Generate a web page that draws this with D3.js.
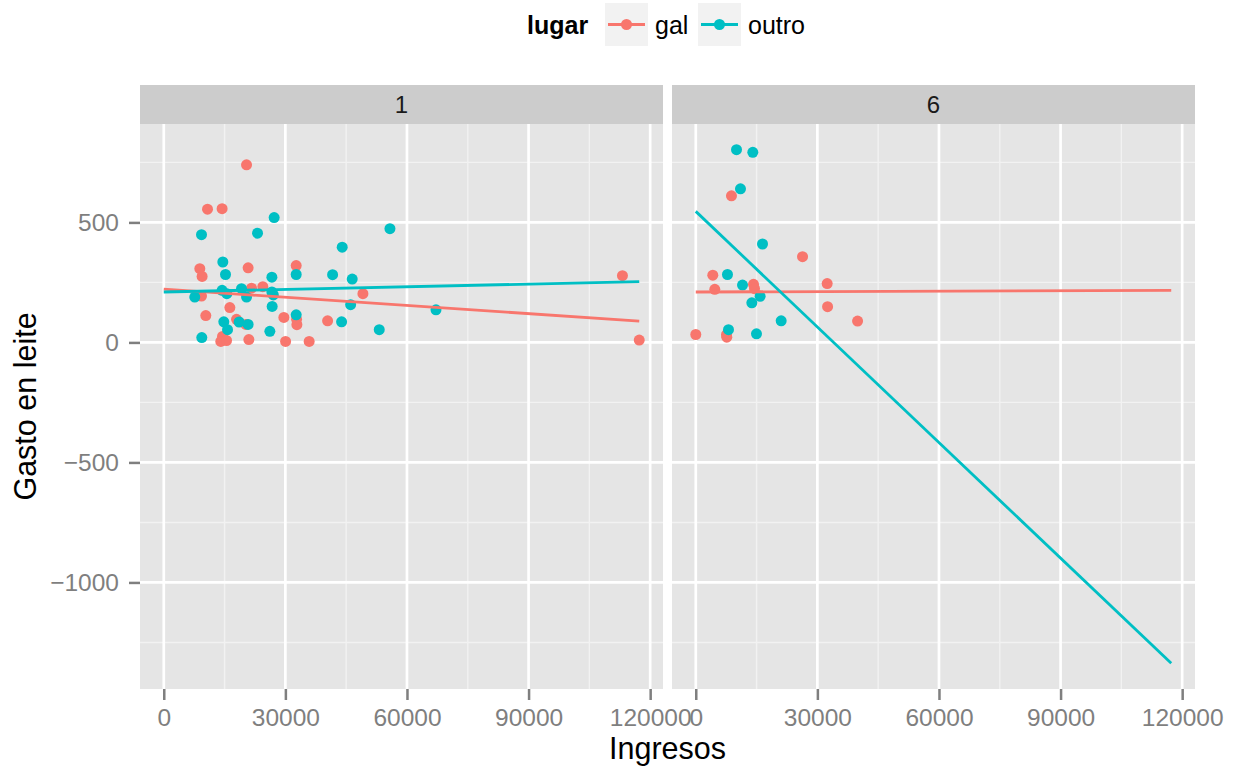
<!DOCTYPE html>
<html>
<head>
<meta charset="utf-8">
<script src="https://cdn.jsdelivr.net/npm/d3@7"></script>
<style>
  body { margin: 0; background: #fff; }
  text { font-family: "Liberation Sans", Arial, Helvetica, sans-serif; }
</style>
</head>
<body>
<div id="chart"></div>
<script>
// DATA
var lugares = ['gal', 'outro'];
var facets = ['1', '6'];
var colors = ['#F8766D', '#00BFC4'];
var xTicks = [0, 30000, 60000, 90000, 120000];
var yTicks = [500, 0, -500, -1000];

// FACET 1 POINTS
var p1GalIngresos = [20420, 10790, 14390, 8890, 9460, 20810, 32670, 21650, 24440, 9310, 49130, 16300, 10370, 17950, 20250, 29630, 32760, 32840, 40420, 14490, 14070, 15480, 20990, 30050, 35870, 113160, 117300];
var p1GalGasto = [740, 555, 557, 307, 275, 311, 320, 226, 232, 193, 203, 145, 112, 96, 75, 104, 96, 74, 90, 25, 4, 8, 12, 4, 4, 278, 10];
var p1OutroIngresos = [27230, 9310, 23130, 55800, 44020, 14570, 15230, 26670, 32670, 41650, 46490, 7650, 14390, 15560, 19180, 20420, 26670, 27030, 26740, 46100, 32670, 14810, 15730, 18590, 20810, 26170, 43870, 53160, 9380, 67160];
var p1OutroGasto = [520, 449, 455, 474, 397, 335, 283, 272, 283, 282, 264, 189, 217, 203, 224, 189, 210, 198, 150, 157, 115, 86, 53, 85, 75, 46, 86, 53, 20, 136];

// FACET 6 POINTS
var p6GalIngresos = [8810, 26340, 4200, 4690, 14240, 14490, 32420, 32520, 39920, 0, 7580, 7650];
var p6GalGasto = [611, 357, 280, 221, 242, 224, 245, 149, 89, 33, 32, 22];
var p6OutroIngresos = [10050, 14070, 11030, 16470, 7820, 11530, 15880, 13830, 21070, 8070, 14980];
var p6OutroGasto = [803, 792, 640, 410, 283, 239, 192, 165, 90, 53, 36];

// LINEAR FIT LINES (ENDPOINTS)
var fitIngresos = [0, 117300];
var p1GalFit = [222, 89];
var p1OutroFit = [210, 253];
var p6GalFit = [210, 217];
var p6OutroFit = [546, -1337];

// SETTINGS
var settings = {
   width: 1233,
   height: 767,
   panelTop: 124,
   panelBottom: 689,
   stripTop: 85,
   panels: [[140, 663], [672, 1195]],
   radius: 5.5,
   tick: 11
}

// BUILD ROWS FROM ARRAYS
function zip(xs, ys) { return xs.map((x, i) => ({ x: x, y: ys[i] })) }
var series = [
   { facet: 0, group: 0, pts: zip(p1GalIngresos, p1GalGasto), fit: zip(fitIngresos, p1GalFit) },
   { facet: 0, group: 1, pts: zip(p1OutroIngresos, p1OutroGasto), fit: zip(fitIngresos, p1OutroFit) },
   { facet: 1, group: 0, pts: zip(p6GalIngresos, p6GalGasto), fit: zip(fitIngresos, p6GalFit) },
   { facet: 1, group: 1, pts: zip(p6OutroIngresos, p6OutroGasto), fit: zip(fitIngresos, p6OutroFit) }
]

// DOMAINS WITH 5% EXPANSION (LIKE GGPLOT)
var allX = [], allY = [];
series.forEach(s => { s.pts.concat(s.fit).forEach(d => { allX.push(d.x); allY.push(d.y) }) })
function expand(ext) { var m = (ext[1] - ext[0]) * 0.05; return [ext[0] - m, ext[1] + m] }
var xDom = expand(d3.extent(allX));
var yDom = expand(d3.extent(allY));

var yScale = d3.scaleLinear().domain(yDom).range([settings.panelBottom, settings.panelTop])
var xScales = settings.panels.map(p => d3.scaleLinear().domain(xDom).range(p))

// CANVAS
var svg = d3.select('#chart').append('svg')
   .attr('width', settings.width)
   .attr('height', settings.height)
svg.append('rect').attr('width', settings.width).attr('height', settings.height).attr('fill', '#fff')

var yMinor = [750, 250, -250, -750, -1250];
var xMinor = [15000, 45000, 75000, 105000];

facets.forEach((f, fi) => {
   var x = xScales[fi];
   var p = settings.panels[fi];
   var g = svg.append('g');

   // PANEL BACKGROUND
   g.append('rect')
      .attr('x', p[0]).attr('y', settings.panelTop)
      .attr('width', p[1] - p[0]).attr('height', settings.panelBottom - settings.panelTop)
      .attr('fill', '#E5E5E5')

   // MINOR GRID
   g.selectAll('.ymin').data(yMinor.filter(v => v > yDom[0] && v < yDom[1])).enter().append('line')
      .attr('x1', p[0]).attr('x2', p[1])
      .attr('y1', d => yScale(d)).attr('y2', d => yScale(d))
      .attr('stroke', '#F2F2F2').attr('stroke-width', 1.4)
   g.selectAll('.xmin').data(xMinor).enter().append('line')
      .attr('y1', settings.panelTop).attr('y2', settings.panelBottom)
      .attr('x1', d => x(d)).attr('x2', d => x(d))
      .attr('stroke', '#F2F2F2').attr('stroke-width', 1.4)

   // MAJOR GRID
   g.selectAll('.ymaj').data(yTicks).enter().append('line')
      .attr('x1', p[0]).attr('x2', p[1])
      .attr('y1', d => yScale(d)).attr('y2', d => yScale(d))
      .attr('stroke', '#fff').attr('stroke-width', 2.7)
   g.selectAll('.xmaj').data(xTicks).enter().append('line')
      .attr('y1', settings.panelTop).attr('y2', settings.panelBottom)
      .attr('x1', d => x(d)).attr('x2', d => x(d))
      .attr('stroke', '#fff').attr('stroke-width', 2.7)

   // STRIP
   g.append('rect')
      .attr('x', p[0]).attr('y', settings.stripTop)
      .attr('width', p[1] - p[0]).attr('height', settings.panelTop - settings.stripTop)
      .attr('fill', '#CCCCCC')
   g.append('text')
      .attr('x', (p[0] + p[1]) / 2).attr('y', (settings.stripTop + settings.panelTop) / 2)
      .attr('dy', '0.35em').attr('text-anchor', 'middle')
      .attr('font-size', 24).attr('fill', '#1A1A1A')
      .text(f)

   // POINTS
   series.filter(s => s.facet === fi).forEach(s => {
      g.selectAll(null).data(s.pts).enter().append('circle')
         .attr('cx', d => x(d.x))
         .attr('cy', d => yScale(d.y))
         .attr('r', settings.radius)
         .attr('fill', colors[s.group])
   })

   // FIT LINES
   var line = d3.line().x(d => x(d.x)).y(d => yScale(d.y))
   series.filter(s => s.facet === fi).forEach(s => {
      g.append('path')
         .attr('d', line(s.fit))
         .attr('fill', 'none')
         .attr('stroke', colors[s.group])
         .attr('stroke-width', 2.8)
   })

   // X AXIS
   var xAxis = svg.append('g')
      .attr('transform', 'translate(0,' + settings.panelBottom + ')')
      .call(d3.axisBottom(x).tickValues(xTicks).tickFormat(d3.format('d')).tickSize(settings.tick).tickPadding(9))
   xAxis.select('.domain').remove()
   xAxis.selectAll('line').attr('stroke', '#7F7F7F').attr('stroke-width', 2.5)
   xAxis.selectAll('text').attr('fill', '#7F7F7F').attr('font-size', 24.5)
      .style('font-family', '"Liberation Sans", Arial, sans-serif')
})

// Y AXIS
var yAxis = svg.append('g')
   .attr('transform', 'translate(' + settings.panels[0][0] + ',0)')
   .call(d3.axisLeft(yScale).tickValues(yTicks).tickFormat(d3.format('d')).tickSize(settings.tick).tickPadding(10))
yAxis.select('.domain').remove()
yAxis.selectAll('line').attr('stroke', '#7F7F7F').attr('stroke-width', 2.5)
yAxis.selectAll('text').attr('fill', '#7F7F7F').attr('font-size', 24.5)
   .style('font-family', '"Liberation Sans", Arial, sans-serif')

// AXIS TITLES
svg.append('text')
   .attr('x', (settings.panels[0][0] + settings.panels[1][1]) / 2).attr('y', 759)
   .attr('text-anchor', 'middle').attr('font-size', 30.5)
   .text('Ingresos')
svg.append('text')
   .attr('transform', 'translate(36,' + (settings.panelTop + settings.panelBottom) / 2 + ') rotate(-90)')
   .attr('text-anchor', 'middle').attr('font-size', 30.5)
   .text('Gasto en leite')

// LEGEND
var legend = svg.append('g')
legend.append('text')
   .attr('x', 527).attr('y', 34)
   .attr('font-size', 25).attr('font-weight', 'bold')
   .text('lugar')
var keyX = [605, 698];
var labelX = [655, 748];
lugares.forEach((l, i) => {
   legend.append('rect')
      .attr('x', keyX[i]).attr('y', 3).attr('width', 43).attr('height', 43)
      .attr('fill', '#F2F2F2')
   legend.append('line')
      .attr('x1', keyX[i] + 3).attr('x2', keyX[i] + 40)
      .attr('y1', 24.5).attr('y2', 24.5)
      .attr('stroke', colors[i]).attr('stroke-width', 2.8)
   legend.append('circle')
      .attr('cx', keyX[i] + 21.5).attr('cy', 24.5).attr('r', settings.radius)
      .attr('fill', colors[i])
   legend.append('text')
      .attr('x', labelX[i]).attr('y', 34)
      .attr('font-size', 25)
      .text(l)
})
</script>
</body>
</html>
